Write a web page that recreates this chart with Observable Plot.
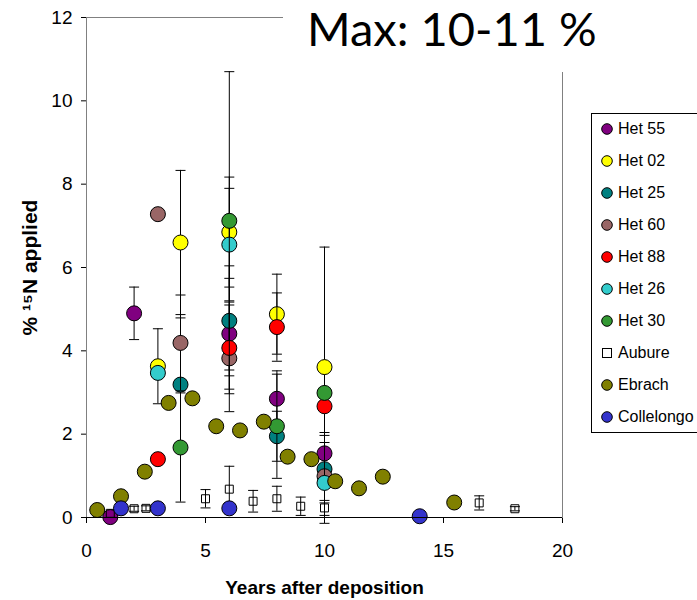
<!DOCTYPE html>
<html>
<head>
<meta charset="utf-8">
<script src="https://cdn.jsdelivr.net/npm/d3@7"></script>
<script src="https://cdn.jsdelivr.net/npm/@observablehq/plot@0.6"></script>
<style>
  html, body { margin: 0; padding: 0; background: #fff; overflow: hidden; }
  #wrap { position: relative; width: 697px; height: 600px; }
  #title { position: absolute; left: 283px; top: 0; width: 414px; height: 72px; background: #fff;
           font-family: Lato, "Open Sans", sans-serif; font-size: 47px; color: #000; }
  #title span { position: absolute; left: 24px; top: 5px; line-height: 1; white-space: nowrap; }
  #legend { position: absolute; left: 591px; top: 113px; width: 130px; height: 320px;
            border: 1px solid #000; background: #fff; box-sizing: border-box;
            font-family: "Liberation Sans", Arial, sans-serif; font-size: 16px; color: #000; }
  .item { position: absolute; left: 0; height: 20px; display: flex; align-items: center; }
  .item svg { margin-left: 9px; margin-right: 5px; }
</style>
</head>
<body>
<div id="wrap"></div>
<script>
// ---- data ----
const seriesNames = ["Het 55", "Het 02", "Het 25", "Het 60", "Het 88", "Het 26", "Het 30", "Aubure", "Ebrach", "Collelongo"];
const seriesColors = ["#800080", "#ffff00", "#008080", "#996666", "#ff0000", "#33cccc", "#339933", "none", "#808000", "#3333cc"];
const seriesSymbols = ["circle", "circle", "circle", "circle", "circle", "circle", "circle", "square", "circle", "circle"];

// rows: [years, % 15N applied, error]
const het55 = [[1, 0.01, 0], [2, 4.90, 0.63], [6, 4.41, 1.33], [8, 2.85, 0.67], [10, 1.54, 0.5]];
const het02 = [[3, 3.63, 0.9], [3.95, 6.60, 1.73], [6, 6.85, 1.32], [8, 4.88, 0.96], [10, 3.61, 2.88]];
const het25 = [[3.95, 3.19, 1.6], [6, 4.72, 1.32], [8, 1.95, 0.6], [10, 1.16, 0.81]];
const het60 = [[3, 7.28, 0], [3.95, 4.19, 1.15], [6, 3.82, 1.28], [10, 0.99, 0]];
const het88 = [[3, 1.40, 0], [6, 4.07, 1.1], [8, 4.57, 0.82], [10, 2.67, 0]];
const het26 = [[3, 3.47, 0], [6, 6.55, 1.35], [10, 0.83, 0.97]];
const het30 = [[3.95, 1.68, 1.31], [6, 7.12, 3.58], [8, 2.19, 1.25], [10, 2.99, 0]];
const aubure = [[1, 0.10, 0], [2, 0.21, 0.06], [2.5, 0.22, 0.06], [5, 0.45, 0.22], [6, 0.68, 0.55], [7, 0.39, 0.26],
                [8, 0.45, 0.3], [9, 0.27, 0.22], [10, 0.23, 0.18], [16.5, 0.35, 0.17], [18, 0.21, 0.05]];
const ebrach = [[0.45, 0.18, 0], [1.45, 0.51, 0], [2.45, 1.10, 0], [3.45, 2.75, 0], [4.45, 2.86, 0], [5.45, 2.19, 0],
                [6.45, 2.09, 0], [7.45, 2.30, 0], [8.45, 1.46, 0], [9.45, 1.40, 0], [10.45, 0.87, 0],
                [11.45, 0.70, 0], [12.45, 0.98, 0], [15.45, 0.36, 0]];
const collelongo = [[1.45, 0.22, 0], [3, 0.22, 0], [6, 0.22, 0], [14, 0.03, 0]];
const seriesData = [het55, het02, het25, het60, het88, het26, het30, aubure, ebrach, collelongo];

const xTicks = [0, 5, 10, 15, 20];
const yTicks = [0, 2, 4, 6, 8, 10, 12];
const titleText = "Max: 10-11 %";
const xLabel = "Years after deposition";
const yLabel = "% \u00b9\u2075N applied";

// ---- marks ----
const capSymbol = { draw(ctx, size) { const w = Math.sqrt(size / Math.PI); ctx.moveTo(-w, 0); ctx.lineTo(w, 0); } };

const marks = [
  Plot.frame({ stroke: "#808080" })
];
seriesData.forEach((rows, i) => {
  const data = rows.map(([x, y, e]) => ({ x, y, e }));
  const withErr = data.filter(d => d.e > 0);
  marks.push(Plot.ruleX(withErr, { x: "x", y1: d => d.y - d.e, y2: d => d.y + d.e, stroke: "#000", strokeWidth: 1 }));
  marks.push(Plot.dot(withErr, { x: "x", y: d => d.y + d.e, symbol: capSymbol, r: 5, stroke: "#000", strokeWidth: 1 }));
  marks.push(Plot.dot(withErr, { x: "x", y: d => d.y - d.e, symbol: capSymbol, r: 5, stroke: "#000", strokeWidth: 1 }));
  if (seriesSymbols[i] === "square") {
    marks.push(Plot.dot(data, { x: "x", y: "y", symbol: "square", r: 4.5, fill: "none", stroke: "#000", strokeWidth: 1 }));
  } else {
    marks.push(Plot.dot(data, { x: "x", y: "y", r: 7.5, fill: seriesColors[i], stroke: "#000", strokeWidth: 1 }));
  }
});
marks.push(Plot.ruleY([0], { stroke: "#000" }));
marks.push(Plot.text([xLabel], { frameAnchor: "bottom", textAnchor: "middle", dy: 76, fontWeight: "bold", fontSize: 19 }));
marks.push(Plot.text([yLabel], { frameAnchor: "left", textAnchor: "middle", dx: -56, rotate: -90, fontWeight: "bold", fontSize: 21 }));

const chart = Plot.plot({
  width: 697,
  height: 600,
  marginLeft: 86,
  marginRight: 135,
  marginTop: 17,
  marginBottom: 83,
  style: { fontFamily: "'Liberation Sans', Arial, sans-serif", fontSize: "19px", color: "#000", background: "#fff", overflow: "visible" },
  x: { domain: [0, 20], ticks: xTicks, tickSize: 6, tickPadding: 20, label: null },
  y: { domain: [0, 12], ticks: yTicks, tickSize: 5, tickPadding: 9, label: null },
  marks
});

const wrap = document.getElementById("wrap");
wrap.appendChild(chart);

// title box (covers the top-right of the frame)
const title = document.createElement("div");
title.id = "title";
title.innerHTML = `<span>${titleText}</span>`;
wrap.appendChild(title);

// legend
const legend = document.createElement("div");
legend.id = "legend";
seriesNames.forEach((name, i) => {
  const item = document.createElement("div");
  item.className = "item";
  item.style.top = (5 + i * 32) + "px";
  const mk = seriesSymbols[i] === "square"
    ? `<svg width="12" height="12"><rect x="1.5" y="1.5" width="9" height="9" fill="none" stroke="#000"/></svg>`
    : `<svg width="12" height="12"><circle cx="6" cy="6" r="5.3" fill="${seriesColors[i]}" stroke="#000"/></svg>`;
  item.innerHTML = mk + `<span>${name}</span>`;
  legend.appendChild(item);
});
wrap.appendChild(legend);
</script>
</body>
</html>
